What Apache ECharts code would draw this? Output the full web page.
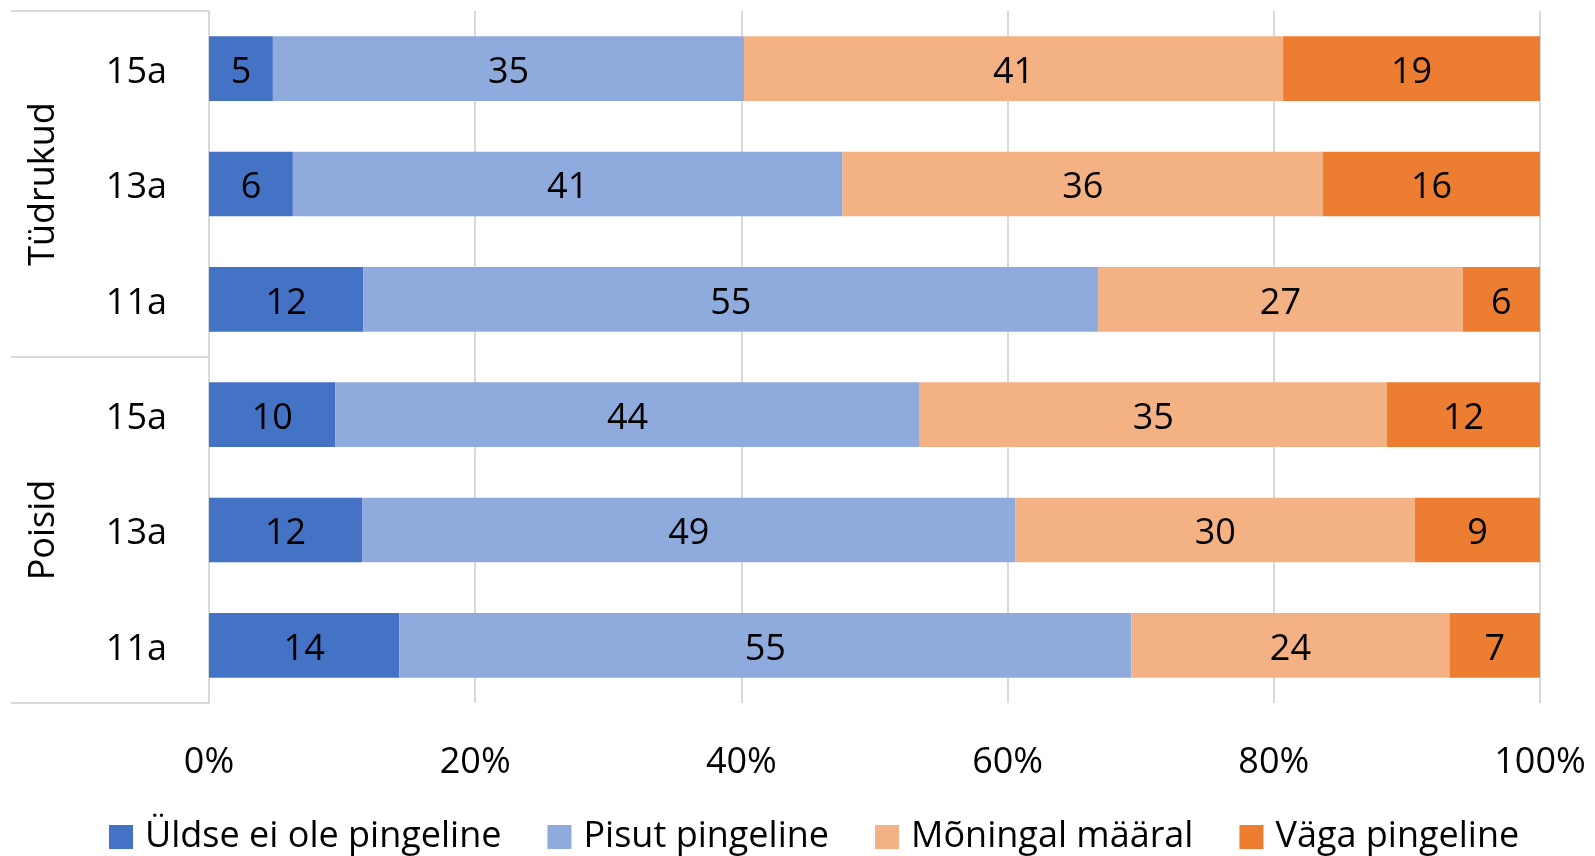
<!DOCTYPE html>
<html>
<head>
<meta charset="utf-8">
<script src="https://cdn.jsdelivr.net/npm/echarts@6/dist/echarts.min.js"></script>
<style>html,body{margin:0;padding:0;background:#fff}#c{width:1595px;height:856px}</style>
</head>
<body>
<div id="c"></div>
<script>
// Row categories (top to bottom) and their groups
var ageLabels = ['15a', '13a', '11a', '15a', '13a', '11a'];
var groupLabels = ['Tüdrukud', 'Poisid'];
var xTicks = [0, 20, 40, 60, 80, 100];

// Series values (percent of each row)
var seriesNames = ['Üldse ei ole pingeline', 'Pisut pingeline', 'Mõningal määral', 'Väga pingeline'];
var uldse    = [4.8, 6.3, 11.6, 9.5, 11.5, 14.3];
var pisut    = [35.4, 41.3, 55.2, 43.9, 49.1, 55.0];
var moningal = [40.5, 36.1, 27.4, 35.1, 30.0, 23.9];
var vaga     = [19.3, 16.3, 5.8, 11.5, 9.4, 6.8];

var colors = ['#4472C4', '#8FAADC', '#F4B183', '#ED7D31'];
var FONT = '"Open Sans", sans-serif';
var FS = 36;
var gridCol = '#D9D9D9';

var chart = echarts.init(document.getElementById('c'), null, {renderer: 'canvas'});

function mk(name, data, color) {
  return {
    name: name, type: 'bar', stack: 'total', data: data,
    barCategoryGap: '44%',
    itemStyle: {color: color},
    label: {
      show: true, position: 'inside', color: '#000',
      fontFamily: FONT, fontSize: FS, offset: [0, 4],
      formatter: function (p) { return Math.round(p.value); }
    }
  };
}

chart.setOption({
  animation: false,
  color: colors,
  grid: {left: 209, right: 55, top: 11, bottom: 153, containLabel: false},
  legend: {
    bottom: -4, left: 104,
    itemWidth: 24, itemHeight: 24, itemGap: 46,
    icon: 'rect',
    textStyle: {fontFamily: FONT, fontSize: FS, color: '#000', padding: [0, 0, 0, 7]},
    data: seriesNames
  },
  xAxis: {
    type: 'value', min: xTicks[0], max: xTicks[xTicks.length - 1], interval: xTicks[1] - xTicks[0],
    axisLine: {show: false}, axisTick: {show: false},
    splitLine: {lineStyle: {color: gridCol, width: 2}},
    axisLabel: {formatter: '{value}%', fontFamily: FONT, fontSize: FS, color: '#000', margin: 42}
  },
  yAxis: [{
    type: 'category', data: ageLabels, inverse: true,
    axisLine: {show: true, lineStyle: {color: gridCol, width: 2}},
    axisTick: {show: false},
    axisLabel: {
      formatter: '{a|{value}}', margin: 42,
      rich: {a: {fontFamily: FONT, fontSize: FS, color: '#000', padding: [8, 0, 0, 0]}}
    }
  }, {
    type: 'category', data: groupLabels, inverse: true, position: 'left',
    axisLine: {show: false},
    axisTick: {show: true, length: 198, lineStyle: {color: gridCol, width: 2}},
    axisLabel: {fontFamily: FONT, fontSize: FS, color: '#000', rotate: 90, margin: 147}
  }],
  series: [
    mk(seriesNames[0], uldse, colors[0]),
    mk(seriesNames[1], pisut, colors[1]),
    mk(seriesNames[2], moningal, colors[2]),
    mk(seriesNames[3], vaga, colors[3])
  ]
});
</script>
</body>
</html>
